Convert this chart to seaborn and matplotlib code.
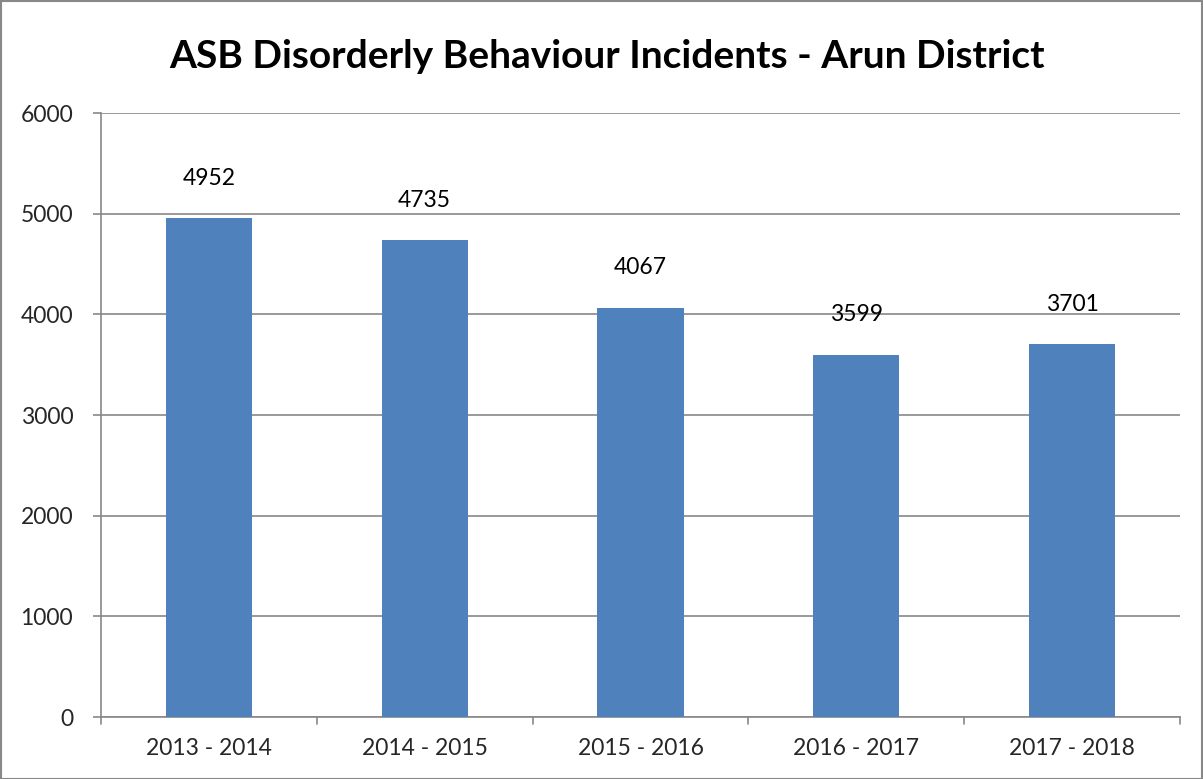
import matplotlib
matplotlib.use("Agg")
import matplotlib.pyplot as plt
import seaborn as sns
import pandas as pd
from matplotlib.patches import Rectangle

categories = ["2013 - 2014", "2014 - 2015", "2015 - 2016", "2016 - 2017", "2017 - 2018"]
values = [4952, 4735, 4067, 3599, 3701]
yticks = [0, 1000, 2000, 3000, 4000, 5000, 6000]
title = "ASB Disorderly Behaviour Incidents - Arun District"

sns.set_theme(style="white")
plt.rcParams['font.family'] = ['Lato', 'DejaVu Sans']

df = pd.DataFrame({"period": categories, "incidents": values})

fig = plt.figure(figsize=(12.03, 7.79), dpi=100)
ax = fig.add_axes([101/1203, 62/779, 1079/1203, 604/779])

sns.barplot(data=df, x="period", y="incidents", color="#4F81BD", width=0.4,
            saturation=1, ax=ax, zorder=3, linewidth=0)

ax.set_ylim(0, 6000)
ax.set_xlim(-0.5, len(categories) - 0.5)
ax.set_yticks(yticks)
ax.set_yticklabels([str(t) for t in yticks], fontsize=16.5)
ax.set_xticks(range(len(categories)))
ax.set_xticklabels(categories, fontsize=16.5)
ax.tick_params(axis='x', length=0, pad=15)
ax.tick_params(axis='y', length=6, width=1.2, color="#888888", left=True, pad=14)
for b in [i - 0.5 for i in range(len(categories) + 1)]:
    ax.plot([b, b], [0, -0.012], transform=ax.get_xaxis_transform(), color="#888888",
            lw=1.2, clip_on=False, zorder=4)

ax.grid(axis='y', color="#888888", lw=1.2, zorder=0)
ax.set_axisbelow(True)
for s in ["top", "right"]:
    ax.spines[s].set_visible(False)
for s in ["left", "bottom"]:
    ax.spines[s].set_color("#888888")
    ax.spines[s].set_linewidth(1.2)
ax.set_xlabel("")
ax.set_ylabel("")

for i, v in enumerate(values):
    ax.annotate(str(v), (i, v), xytext=(0, 29), textcoords="offset points",
                ha="center", va="center", fontsize=16.5, color="black")

fig.text(607/1203, 1 - 56/779, title, ha="center", va="center",
         fontsize=28, fontweight="bold", color="black")

fig.patches.append(Rectangle((0.5/1203, 0.5/779), 1 - 1.5/1203, 1 - 1.5/779,
                             transform=fig.transFigure, fill=False,
                             edgecolor="#888888", lw=1.5))

fig.savefig("out.png", dpi=100)
